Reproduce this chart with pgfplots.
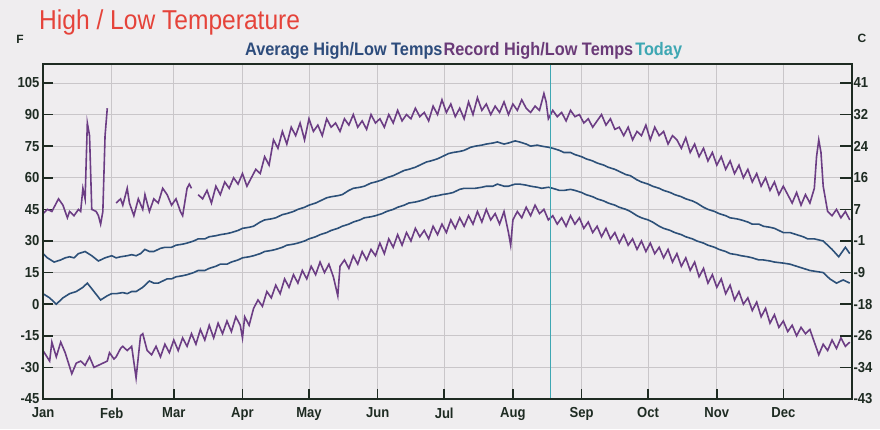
\documentclass[border=0pt]{standalone}
\usepackage{pgfplots}
\pgfplotsset{compat=1.18}
\usepackage{fontspec}
\setmainfont{Liberation Sans}
\newfontfamily\titlefont{Liberation Sans}[FakeStretch=0.9]
\definecolor{bg}{HTML}{EFEDEF}
\definecolor{gridc}{HTML}{C9C6C9}
\definecolor{frame}{HTML}{1E2B22}
\definecolor{rec}{HTML}{6C3D84}
\definecolor{avg}{HTML}{2C5078}
\definecolor{today}{HTML}{3EA7B3}
\definecolor{titlered}{HTML}{E5433A}
\definecolor{legavg}{HTML}{2D4C7C}
\definecolor{legrec}{HTML}{6A3A78}
\begin{document}
\begin{tikzpicture}[x=1pt,y=1pt]
\fill[bg] (0,0) rectangle (880,429);
\node[anchor=base west,text=titlered,inner sep=0pt,font=\titlefont\fontsize{27.3}{27}\selectfont] at (39,399) {High / Low Temperature};
\node[anchor=base west,inner sep=0pt,font=\titlefont\fontsize{18.1}{18}\selectfont\bfseries] at (245,373) {\textcolor{legavg}{Average High/Low Temps}\hspace{1pt}\textcolor{legrec}{Record High/Low Temps}\hspace{2pt}\textcolor{today}{Today}};
\node[font=\fontsize{12}{12}\selectfont\bfseries,text=frame] at (20,390) {F};
\node[font=\fontsize{12}{12}\selectfont\bfseries,text=frame] at (862,391) {C};
\begin{axis}[
  at={(43pt,30pt)}, anchor=south west,
  width=809pt, height=335pt, scale only axis,
  xmin=0, xmax=365, ymin=-45, ymax=114,
  xtick={0,31,59,90,120,151,181,212,243,273,304,334},
  xticklabels={Jan,Feb,Mar,Apr,May,Jun,Jul,Aug,Sep,Oct,Nov,Dec},
  ytick={-45,-30,-15,0,15,30,45,60,75,90,105},
  yticklabels={-45,-30,-15,0,15,30,45,60,75,90,105},
  xtick pos=bottom, ytick pos=left,
  tick align=inside,
  major tick length=10pt,
  tick style={frame, line width=1.6pt},
  grid=major,
  major grid style={gridc, line width=0.8pt},
  axis line style={frame, line width=2pt},
  ticklabel style={font=\titlefont\fontsize{14.5}{14}\selectfont\bfseries, text=frame},
  xticklabel style={yshift=-5pt},
  unbounded coords=jump,
  clip=true,
]
% Average high
\addplot[avg, line width=1.6pt] coordinates {
(0,24) (2,22) (5,20) (8,21) (10,22) (12,22.5) (14,22) (16,24) (19,25) (22,23) (25,20.5) (28,22) (31,23) (33,22) (35,22.5) (38,23) (40,23.5) (42,23) (44,24) (46,26) (48,25) (50,25) (53,26.5) (55,27) (58,27) (60,28) (63,28.5) (65,29) (68,30) (70,31) (73,31) (75,32) (78,32.5) (80,33) (83,33.5) (85,34) (88,35) (90,36) (93,36.5) (95,37) (98,39) (100,40) (103,40.5) (105,41) (108,42.5) (110,43) (113,44) (115,45) (118,46) (120,47) (123,48) (125,49) (128,50.5) (130,51) (133,51.5) (135,52) (138,54) (140,55) (143,55.5) (145,56) (148,57.5) (150,58) (153,59) (155,60) (158,61) (160,62) (163,63.5) (165,64) (168,65) (170,66) (173,67.5) (175,68) (178,69) (180,70) (183,71.5) (185,72) (188,72.5) (190,73) (193,74.5) (195,75) (198,75.5) (200,76) (203,76.5) (205,77) (208,76) (210,76.5) (213,77.5) (215,77) (218,76) (220,75) (223,75.5) (225,75) (228,74.5) (230,74) (233,73) (235,72) (238,72) (240,71) (243,70) (245,69) (248,68) (250,67) (253,66) (255,65) (258,64) (260,63) (263,61.5) (265,61) (268,59) (270,58) (273,57) (275,56) (278,55) (280,54) (283,53) (285,52) (288,51) (290,50) (293,49) (295,48) (298,46) (300,45) (303,44) (305,43) (308,42) (310,41) (313,40.5) (315,40) (318,39) (320,38) (323,38) (325,37) (328,36.5) (330,36) (334,34) (337,34) (340,33) (343,32) (345,31) (348,31) (352,30) (354,28) (356,26) (359,22.5) (362,27) (364,24)
};
% Average low
\addplot[avg, line width=1.6pt] coordinates {
(0,5) (3,3) (6,0) (9,3) (12,5) (15,6) (18,8) (20,10) (23,6) (26,2) (29,4) (31,5) (33,5) (36,5.5) (38,5) (40,6) (42,6) (45,8) (48,11) (50,10) (52,10) (54,11) (56,12) (58,12) (60,13) (63,13.5) (65,14) (68,15) (70,16) (73,16) (75,17) (78,18) (80,19) (83,19) (85,20) (88,21) (90,22) (93,22.5) (95,23) (98,24) (100,25) (103,25.5) (105,26) (108,27) (110,28) (113,28.5) (115,29) (118,30) (120,31) (123,32) (125,33) (128,34) (130,35) (133,36) (135,37) (138,38) (140,39) (143,40) (145,41) (148,41.5) (150,42) (153,43) (155,44) (158,45) (160,46) (163,47) (165,48) (168,48.5) (170,49) (173,50) (175,51) (178,51.5) (180,52) (183,52.5) (185,53) (188,54.5) (190,55) (193,55) (195,55) (198,55.5) (200,56) (203,56) (205,57) (208,56) (210,56) (213,57) (215,57) (218,56.5) (220,56) (223,55.5) (225,55) (228,55.5) (230,55) (233,54) (235,54) (238,54.5) (240,54) (243,53) (245,52) (248,51) (250,50) (253,49) (255,48) (258,47) (260,46) (263,45) (265,44) (268,42) (270,41) (273,40) (275,39) (278,37) (280,36) (283,35) (285,34) (288,33) (290,32) (293,31) (295,30) (298,29) (300,28) (303,27) (305,26) (308,25) (310,24) (313,23.5) (315,23) (318,22.5) (320,22) (323,21) (325,21) (328,20.5) (330,20) (334,19.5) (337,19) (340,18) (343,17) (346,16) (349,15.5) (352,15) (355,12) (358,10) (361,11.5) (364,10)
};
% Record high
\addplot[rec, line width=1.6pt] coordinates {
(0,43) (2,45) (4,44) (6,48) (7,50) (9,47) (11,41) (12,44) (14,42) (16,45) (17,44) (18,55) (19,50) (20,86) (21,80) (22,45) (24,44) (25,42) (26,38) (27,44) (28,80) (29,93) (30,nan)
(33,48) (35,50) (36,47) (38,55) (39,48) (41,42) (43,50) (45,45) (46,52) (48,44) (50,50) (52,48) (54,55) (56,52) (58,47) (60,50) (62,44) (63,42) (65,55) (66,57) (67,55) (68,nan)
(70,52) (72,50) (74,54) (76,48) (78,56) (80,52) (82,58) (84,55) (86,60) (88,57) (90,62) (92,56) (94,60) (96,64) (98,62) (100,70) (102,66) (104,78) (106,74) (108,82) (110,76) (112,84) (114,80) (116,86) (118,78) (120,88) (122,82) (124,85) (126,80) (128,88) (130,84) (132,86) (134,82) (136,88) (138,85) (140,90) (142,84) (144,87) (146,83) (148,90) (150,86) (152,88) (154,84) (156,90) (158,86) (160,92) (162,87) (164,90) (166,88) (168,93) (170,89) (172,91) (174,87) (176,94) (178,90) (180,97) (182,91) (184,95) (186,89) (188,93) (190,88) (192,96) (194,90) (196,98) (198,92) (200,95) (202,90) (204,94) (206,91) (208,96) (210,90) (212,95) (214,92) (216,97) (218,93) (220,91) (222,94) (224,92) (226,100) (227,96) (228,88) (230,92) (232,89) (234,91) (236,87) (238,92) (240,89) (242,90) (244,86) (246,88) (248,84) (250,87) (252,90) (254,85) (256,88) (258,83) (260,84) (262,80) (264,84) (266,78) (268,82) (270,80) (272,85) (274,78) (276,84) (278,80) (280,82) (282,76) (284,80) (286,78) (288,74) (290,79) (292,72) (294,76) (296,70) (298,74) (300,68) (302,72) (304,66) (306,70) (308,64) (310,68) (312,62) (314,66) (316,60) (318,64) (320,58) (322,62) (324,56) (326,60) (328,54) (330,58) (332,52) (334,56) (336,52) (338,48) (340,53) (342,47) (344,52) (346,48) (348,55) (349,70) (350,78) (351,72) (352,56) (353,50) (354,44) (356,42) (358,45) (360,41) (362,44) (364,40)
};
% Record low
\addplot[rec, line width=1.6pt] coordinates {
(0,-22) (3,-27) (4,-18) (6,-25) (8,-18) (10,-23) (13,-33) (15,-28) (17,-27) (19,-29) (21,-25) (23,-30) (25,-29) (27,-28) (29,-27) (30,-23) (32,-26) (33,-25) (35,-21) (36,-20) (38,-22) (40,-20) (42,-35) (44,-15) (45,-14) (47,-22) (49,-24) (51,-20) (53,-25) (55,-19) (57,-23) (59,-17) (61,-22) (63,-16) (65,-20) (67,-14) (69,-19) (71,-12) (73,-17) (75,-10) (77,-16) (79,-9) (81,-14) (83,-8) (85,-13) (87,-6) (89,-10) (90,-16) (91,-6) (93,-10) (95,-2) (97,2) (99,-1) (101,6) (103,3) (105,9) (107,5) (109,12) (111,8) (113,14) (115,10) (117,16) (119,12) (121,18) (123,14) (125,20) (127,15) (129,19) (131,13) (133,4) (134,18) (136,21) (138,17) (140,23) (142,19) (144,25) (146,21) (148,26) (150,23) (152,29) (154,24) (156,31) (158,27) (160,33) (162,28) (164,34) (166,30) (168,36) (170,32) (172,35) (174,31) (176,37) (178,33) (180,38) (182,34) (184,40) (186,36) (188,41) (190,37) (192,42) (194,38) (196,44) (198,39) (200,45) (202,40) (204,43) (206,38) (208,44) (210,34) (211,28) (212,40) (214,44) (216,41) (218,46) (220,42) (222,47) (224,43) (226,45) (228,40) (230,42) (232,38) (234,41) (236,37) (238,42) (240,38) (242,41) (244,36) (246,39) (248,34) (250,37) (252,32) (254,36) (256,31) (258,34) (260,29) (262,33) (264,28) (266,31) (268,26) (270,30) (272,25) (274,29) (276,24) (278,27) (280,22) (282,26) (284,20) (286,24) (288,18) (290,22) (292,16) (294,20) (296,13) (298,17) (300,10) (302,14) (304,8) (306,12) (308,5) (310,9) (312,2) (314,6) (316,0) (318,3) (320,-3) (322,1) (324,-6) (326,-2) (328,-9) (330,-5) (332,-11) (334,-8) (336,-13) (338,-10) (340,-15) (342,-11) (344,-14) (346,-12) (348,-18) (350,-24) (352,-19) (354,-22) (356,-17) (358,-21) (360,-16) (362,-20) (364,-18)
};
% Today
\addplot[today, line width=1.6pt] coordinates {(229,-45) (229,114)};
\end{axis}
\begin{axis}[
  at={(43pt,30pt)}, anchor=south west,
  width=809pt, height=335pt, scale only axis,
  xmin=0, xmax=365, ymin=-45, ymax=114,
  xtick=\empty,
  ytick={-45,-30,-15,0,15,30,45,60,75,90,105},
  yticklabels={-43,-34,-26,-18,-9,-1,7,16,24,32,41},
  ytick pos=right, yticklabel pos=right,
  tick align=inside,
  major tick length=12pt,
  tick style={frame, line width=1.6pt},
  axis line style={frame, line width=2pt},
  ticklabel style={font=\titlefont\fontsize{14.5}{14}\selectfont\bfseries, text=frame},
  yticklabel style={xshift=-2pt},
]
\end{axis}
\end{tikzpicture}
\end{document}
